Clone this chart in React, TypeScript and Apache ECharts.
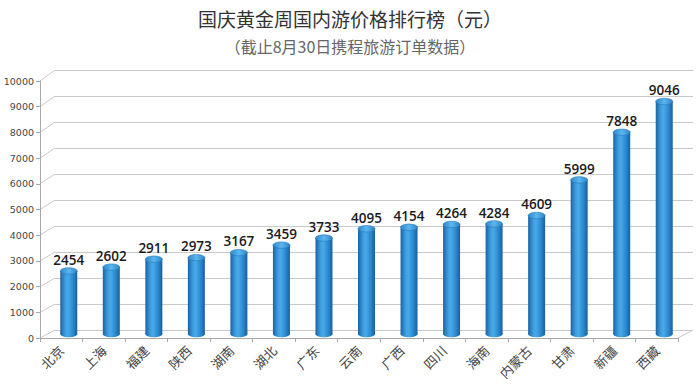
import React, { useEffect, useRef } from "react";
import * as echarts from "echarts";

const categories = ["北京", "上海", "福建", "陕西", "湖南", "湖北", "广东", "云南", "广西", "四川", "海南", "内蒙古", "甘肃", "新疆", "西藏"];
const prices = [2454, 2602, 2911, 2973, 3167, 3459, 3733, 4095, 4154, 4264, 4284, 4609, 5999, 7848, 9046];
const yTicks = [0, 1000, 2000, 3000, 4000, 5000, 6000, 7000, 8000, 9000, 10000];
const titleText = "国庆黄金周国内游价格排行榜（元）";
const subtitleText = "（截止8月30日携程旅游订单数据）";

const W = 700;
const H = 389;
const BACK = { left: 55, right: 7, top: 70, bottom: 59 };
const FRONT = { left: 40, right: 22, top: 81, bottom: 51 };
const BARS = { left: 47.5, right: 14.5, top: 77, bottom: 55 };
const GRID_COLOR = "#c9c9c9";

export default function App() {
  const ref = useRef<HTMLDivElement>(null);
  useEffect(() => {
    if (!ref.current) return;
    const chart = echarts.init(ref.current, null, { renderer: "svg" });
    const bodyGrad = () =>
      new echarts.graphic.LinearGradient(0, 0, 1, 0, [
        { offset: 0, color: "#1b62a3" },
        { offset: 0.3, color: "#3d9ee0" },
        { offset: 0.45, color: "#4aaae8" },
        { offset: 0.75, color: "#2a89cf" },
        { offset: 1, color: "#1a5e9c" },
      ]);
    const topGrad = () =>
      new echarts.graphic.LinearGradient(0, 0, 1, 0, [
        { offset: 0, color: "#2f86c9" },
        { offset: 0.5, color: "#5cb6ee" },
        { offset: 1, color: "#2e84c6" },
      ]);
    chart.setOption({
      animation: false,
      backgroundColor: "#ffffff",
      title: [
        {
          text: titleText,
          left: "center",
          top: 4,
          textStyle: { fontFamily: "Noto Sans CJK SC", fontSize: 19, fontWeight: "normal", color: "#333" },
        },
        {
          text: subtitleText,
          left: "center",
          top: 33,
          textStyle: { fontFamily: "Noto Sans CJK SC", fontSize: 16, fontWeight: "normal", color: "#666" },
        },
      ],
      grid: [
        { ...BACK, containLabel: false },
        { ...FRONT, containLabel: false },
        { ...BARS, containLabel: false },
      ],
      xAxis: [
        { type: "category", gridIndex: 0, data: categories, show: false },
        {
          type: "category",
          gridIndex: 1,
          data: categories,
          axisLine: { show: true, lineStyle: { color: "#a8a8a8" } },
          axisTick: { show: true, length: 4, lineStyle: { color: "#a8a8a8" } },
          axisLabel: {
            interval: 0,
            rotate: 45,
            margin: 10,
            fontFamily: "Noto Sans CJK SC",
            fontSize: 13,
            color: "#444",
          },
        },
        { type: "category", gridIndex: 2, data: categories, show: false },
      ],
      yAxis: [
        {
          type: "value",
          gridIndex: 0,
          min: 0,
          max: 10000,
          interval: 1000,
          axisLine: { show: false },
          axisTick: { show: false },
          axisLabel: { show: false },
          splitLine: { show: true, lineStyle: { color: GRID_COLOR, width: 1 } },
        },
        {
          type: "value",
          gridIndex: 1,
          min: 0,
          max: 10000,
          interval: 1000,
          axisLine: { show: true, lineStyle: { color: "#a8a8a8" } },
          axisTick: { show: true, length: 4, lineStyle: { color: "#a8a8a8" } },
          axisLabel: {
            margin: 6,
            fontFamily: "DejaVu Sans",
            fontSize: 9.5,
            color: "#444",
            formatter: (v: number) => (yTicks.includes(v) ? String(v) : ""),
          },
          splitLine: { show: false },
        },
        { type: "value", gridIndex: 2, min: 0, max: 10000, show: false, splitLine: { show: false } },
      ],
      series: [
        {
          type: "custom",
          xAxisIndex: 2,
          yAxisIndex: 2,
          data: prices.map((v, i) => [i, v]),
          encode: { x: 0, y: 1 },
          renderItem: (params: any, api: any) => {
            const idx = api.value(0);
            const v = api.value(1);
            const top = api.coord([idx, v]);
            const base = api.coord([idx, 0]);
            const w = 17;
            const ry = 3.2;
            return {
              type: "group",
              children: [
                {
                  type: "ellipse",
                  shape: { cx: top[0], cy: base[1], rx: w / 2, ry },
                  style: { fill: bodyGrad() },
                },
                {
                  type: "rect",
                  shape: { x: top[0] - w / 2, y: top[1], width: w, height: base[1] - top[1] },
                  style: { fill: bodyGrad() },
                },
                {
                  type: "ellipse",
                  shape: { cx: top[0], cy: top[1], rx: w / 2, ry },
                  style: { fill: topGrad(), stroke: "#2479bb", lineWidth: 0.6 },
                },
                {
                  type: "text",
                  style: {
                    text: String(v),
                    x: top[0],
                    y: top[1] - ry - 1,
                    align: "center",
                    verticalAlign: "bottom",
                    fontFamily: "Open Sans",
                    fontWeight: 600,
                    fontSize: 13.5,
                    fill: "#1a1a1a",
                  },
                },
              ],
            };
          },
        },
      ],
    });

    // 3D connectors from the front axis to the back wall gridlines
    const lines: any[] = [];
    const lineStyle = { stroke: GRID_COLOR, lineWidth: 1 };
    yTicks.forEach((v) => {
      const yF = chart.convertToPixel({ yAxisIndex: 1 }, v) as number;
      const yB = chart.convertToPixel({ yAxisIndex: 0 }, v) as number;
      lines.push({
        type: "line",
        shape: { x1: FRONT.left, y1: yF, x2: BACK.left, y2: yB },
        style: lineStyle,
        silent: true,
      });
    });
    const yF0 = chart.convertToPixel({ yAxisIndex: 1 }, 0) as number;
    const yB0 = chart.convertToPixel({ yAxisIndex: 0 }, 0) as number;
    lines.push({
      type: "line",
      shape: { x1: W - FRONT.right, y1: yF0, x2: W - BACK.right, y2: yB0 },
      style: lineStyle,
      silent: true,
    });
    chart.setOption({ graphic: { elements: lines } });

    return () => chart.dispose();
  }, []);
  return <div ref={ref} style={{ position: "fixed", left: 0, top: 0, width: W, height: H }} />;
}
